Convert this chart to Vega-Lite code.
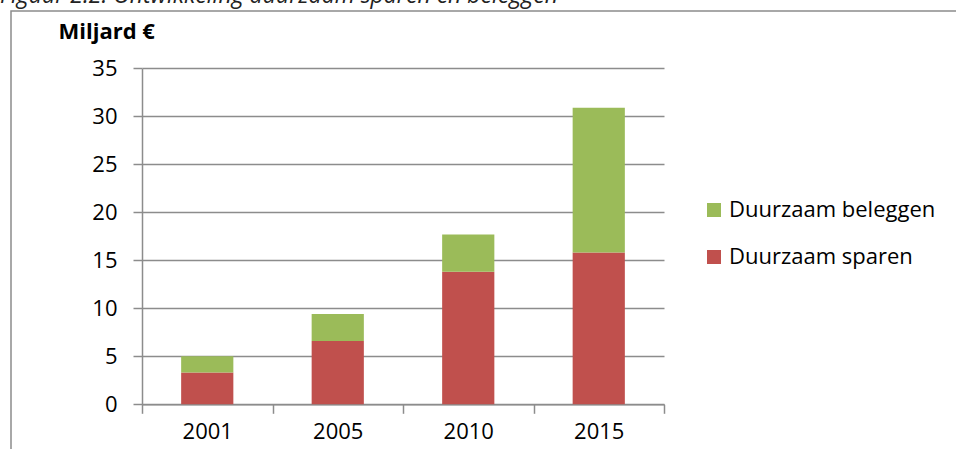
{
  "$schema": "https://vega.github.io/schema/vega-lite/v6.json",
  "autosize": {"type": "none"},
  "padding": {"left": 11, "top": 11, "right": 0, "bottom": 0},
  "width": 950,
  "height": 445,
  "background": "white",
  "title": {
    "text": "Figuur 2.2: Ontwikkeling duurzaam sparen en beleggen",
    "anchor": "start",
    "frame": "group",
    "orient": "top",
    "offset": 4,
    "dy": 19,
    "baseline": "alphabetic",
    "dx": -11,
    "font": "Open Sans",
    "fontSize": 23,
    "fontStyle": "italic",
    "fontWeight": "normal",
    "color": "#222222",
    "limit": 900
  },
  "data": {
    "values": [
      {"jaar": "2001", "reeks": "Duurzaam sparen", "waarde": 3.3},
      {"jaar": "2001", "reeks": "Duurzaam beleggen", "waarde": 1.7},
      {"jaar": "2005", "reeks": "Duurzaam sparen", "waarde": 6.6},
      {"jaar": "2005", "reeks": "Duurzaam beleggen", "waarde": 2.8},
      {"jaar": "2010", "reeks": "Duurzaam sparen", "waarde": 13.8},
      {"jaar": "2010", "reeks": "Duurzaam beleggen", "waarde": 3.9},
      {"jaar": "2015", "reeks": "Duurzaam sparen", "waarde": 15.8},
      {"jaar": "2015", "reeks": "Duurzaam beleggen", "waarde": 15.1}
    ]
  },
  "mark": {"type": "bar", "width": {"band": 0.4}},
  "encoding": {
    "x": {
      "field": "jaar",
      "type": "nominal",
      "scale": {"range": [131, 653], "paddingInner": 0, "paddingOuter": 0},
      "axis": {
        "title": null,
        "orient": "bottom",
        "offset": -51.7,
        "labelAngle": 0,
        "tickBand": "extent",
        "grid": false,
        "domainColor": "#8c8c8c",
        "domainWidth": 1.5,
        "tickColor": "#8c8c8c",
        "tickWidth": 1.5,
        "tickSize": 9,
        "labelPadding": 8,
        "labelFont": "Open Sans",
        "labelFontSize": 22,
        "labelColor": "#000000"
      }
    },
    "y": {
      "field": "waarde",
      "type": "quantitative",
      "stack": "zero",
      "scale": {"domain": [0, 35], "range": [393.3, 57.3], "nice": false},
      "axis": {
        "title": "Miljard €",
        "titleAngle": 0,
        "titleAlign": "left",
        "titleBaseline": "alphabetic",
        "titleX": -84,
        "titleY": 27,
        "titleFont": "Open Sans",
        "titleFontSize": 22,
        "titleFontWeight": "bold",
        "titleColor": "#000000",
        "offset": -131,
        "values": [0, 5, 10, 15, 20, 25, 30, 35],
        "grid": true,
        "gridColor": "#8c8c8c",
        "gridWidth": 1.5,
        "domainColor": "#8c8c8c",
        "domainWidth": 1.5,
        "tickColor": "#8c8c8c",
        "tickWidth": 1.5,
        "tickSize": 9,
        "labelPadding": 16,
        "labelFont": "Open Sans",
        "labelFontSize": 22,
        "labelColor": "#000000"
      }
    },
    "color": {
      "field": "reeks",
      "type": "nominal",
      "scale": {"domain": ["Duurzaam beleggen", "Duurzaam sparen"], "range": ["#9BBB59", "#C0504D"]},
      "legend": {
        "title": null,
        "orient": "none",
        "legendX": 692,
        "legendY": 188,
        "direction": "vertical",
        "symbolType": "square",
        "symbolSize": 196,
        "symbolStrokeWidth": 0,
        "labelFont": "Open Sans",
        "labelFontSize": 22,
        "labelColor": "#000000",
        "labelOffset": 4,
        "labelLimit": 400,
        "rowPadding": 25,
        "padding": 0
      }
    },
    "order": {"field": "reeks", "sort": "descending"}
  },
  "config": {
    "view": {"stroke": "#8c8c8c", "strokeWidth": 1.5}
  }
}
